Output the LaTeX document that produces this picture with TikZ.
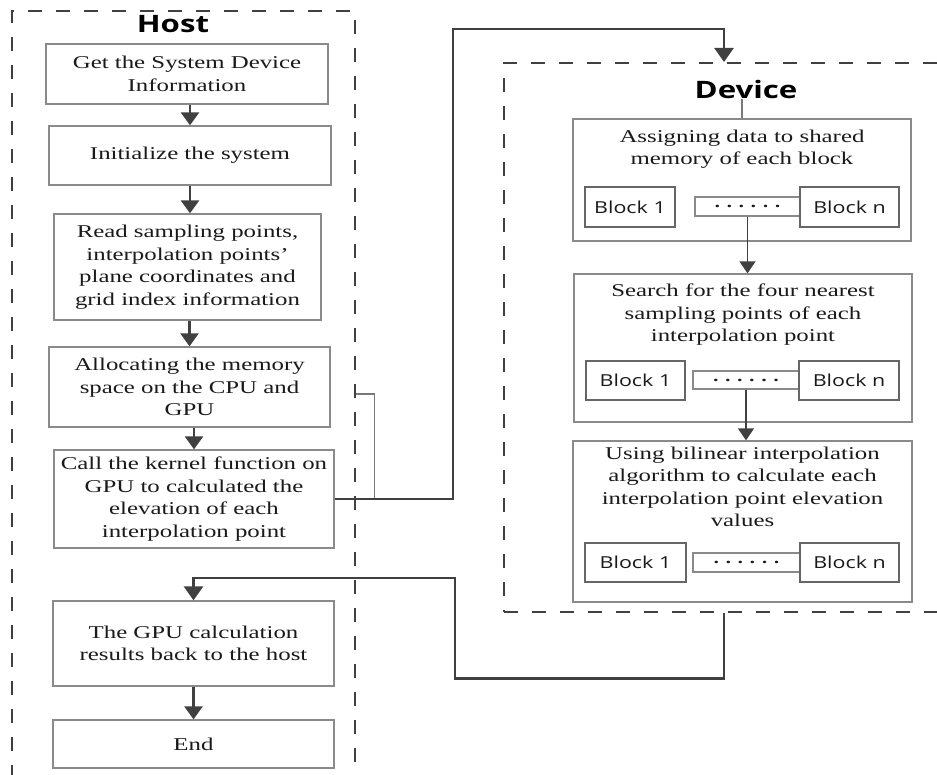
\documentclass[tikz,border=0pt]{standalone}
\usepackage{fontspec}
\setmainfont[FakeStretch=1.38]{Liberation Serif}
\newfontfamily\labfont[FakeStretch=1.3]{Open Sans}
\usetikzlibrary{arrows.meta,calc}
\definecolor{conn}{HTML}{404040}
\definecolor{bord}{HTML}{8A8A8A}
\definecolor{ink}{HTML}{1A1A1A}
\newcommand\sixdots{.\hskip6.5pt.\hskip6.5pt.\hskip6.5pt.\hskip6.5pt.\hskip6.5pt.}
\begin{document}
\begin{tikzpicture}[x=1pt,y=-1pt,
  cont/.style={draw=conn,line width=2.2pt,dash pattern=on 14pt off 14pt,inner sep=0pt},
  hbox/.style={draw=bord,line width=1.3pt,fill=white,align=center,inner sep=0pt,
    text=ink,font=\fontsize{18}{22.5}\selectfont},
  dbox/.style={draw=bord,line width=1.3pt,inner sep=0pt},
  dtext/.style={align=center,inner sep=0pt,text=ink,font=\fontsize{18}{22.5}\selectfont},
  blk/.style={draw=conn!80,line width=1.1pt,fill=white,inner sep=0pt,text=ink,
    font=\labfont\fontsize{16.5}{20}\selectfont},
  dotbox/.style={draw=bord,line width=1.1pt,fill=white,inner sep=0pt,text=ink,
    font=\labfont\bfseries\fontsize{15}{18}\selectfont},
  title/.style={inner sep=0pt,anchor=base,text=black,
    font=\labfont\bfseries\fontsize{24}{28}\selectfont},
  harr/.style={draw=conn,line width=2.6pt,-{Triangle[length=13pt,width=18pt]}},
  conn/.style={draw=conn,line width=2.8pt,line join=miter},
  bigarr/.style={conn,-{Triangle[length=14pt,width=19pt]}},
  darr/.style={draw=conn,line width=1.4pt,-{Triangle[length=12pt,width=16pt]}},
  thinc/.style={draw=conn!70,line width=1.1pt}]
\useasboundingbox (0,0) rectangle (937,775);

% containers
\node[cont,minimum width=343pt,minimum height=800pt,anchor=north west] (host) at (11,10) {};
\node[cont,minimum width=460pt,minimum height=549pt,anchor=north west] (dev) at (503,62) {};
\node[title] (hostlab) at (173,33) {Host};
\node[title] (devlab) at (746,99) {Device};

% host flow
\node[hbox,minimum width=282pt,minimum height=60pt] (b1) at (187,74) {Get the System Device\\Information};
\node[hbox,minimum width=282pt,minimum height=59pt] (b2) at (190,155.5) {Initialize the system};
\node[hbox,minimum width=267pt,minimum height=106pt] (b3) at (187.5,267) {Read sampling points,\\interpolation points'\\plane coordinates and\\grid index information};
\node[hbox,minimum width=281pt,minimum height=80pt] (b4) at (189.5,387) {Allocating the memory\\space on the CPU and\\GPU};
\node[hbox,minimum width=280pt,minimum height=98pt] (b5) at (194,499) {Call the kernel function on\\GPU to calculated the\\elevation of each\\interpolation point};
\node[hbox,minimum width=281pt,minimum height=85pt] (b6) at (193.5,643.5) {The GPU calculation\\results back to the host};
\node[hbox,minimum width=281pt,minimum height=48pt] (b7) at (193.5,744) {End};

\draw[harr] (b2.north |- b1.south) -- (b2.north);
\draw[harr] (b2.south) -- (b2.south |- b3.north);
\draw[harr] (b4.north |- b3.south) -- (b4.north);
\draw[harr] (b5.north |- b4.south) -- (b5.north);
\draw[harr] (b6.south) -- (b7.north);

% device flow
\node[dbox,minimum width=338pt,minimum height=122pt] (a1) at (742,180) {};
\node[dtext] (a1t) at (742,149) {Assigning data to shared\\memory of each block};
\node[blk,minimum width=90pt,minimum height=40pt] (a1b1) at (630,207) {Block 1};
\node[dotbox,minimum width=105pt,minimum height=19pt] (a1d) at (747.5,206.5) {\sixdots};
\node[blk,minimum width=99pt,minimum height=40pt] (a1bn) at (849.5,207) {Block n};

\node[dbox,minimum width=338pt,minimum height=148pt] (s) at (743,348) {};
\node[dtext] (st) at (743,315) {Search for the four nearest\\sampling points of each\\interpolation point};
\node[blk,minimum width=99pt,minimum height=39pt] (sb1) at (635.5,380.5) {Block 1};
\node[dotbox,minimum width=106pt,minimum height=18pt] (sd) at (746,380) {\sixdots};
\node[blk,minimum width=100pt,minimum height=39pt] (sbn) at (849,380.5) {Block n};

\node[dbox,minimum width=339pt,minimum height=161pt] (u) at (742.5,521.5) {};
\node[dtext] (ut) at (742.5,487) {Using bilinear interpolation\\algorithm to calculate each\\interpolation point elevation\\values};
\node[blk,minimum width=101pt,minimum height=39pt] (ub1) at (635.5,562.5) {Block 1};
\node[dotbox,minimum width=107pt,minimum height=19pt] (ud) at (746.5,562.5) {\sixdots};
\node[blk,minimum width=99pt,minimum height=39pt] (ubn) at (849.5,562.5) {Block n};

\draw[thinc] (devlab.south -| a1.north) -- (a1.north);
\draw[darr] (a1d.south) -- (a1d.south |- s.north);
\draw[darr] (sd.south) -- (sd.south |- u.north);

% host <-> device connectors
\draw[thinc] ($(host.north east)+(0,384)$) -- ++(18,0) |- (b5.east);
\draw[bigarr] (b5.east) -| (453,29) -| ([xshift=221pt]dev.north west);
\draw[bigarr] ([xshift=221pt]dev.south west) -- ++(0,65) -| (455,578) -| (b6.north);
\end{tikzpicture}
\end{document}
